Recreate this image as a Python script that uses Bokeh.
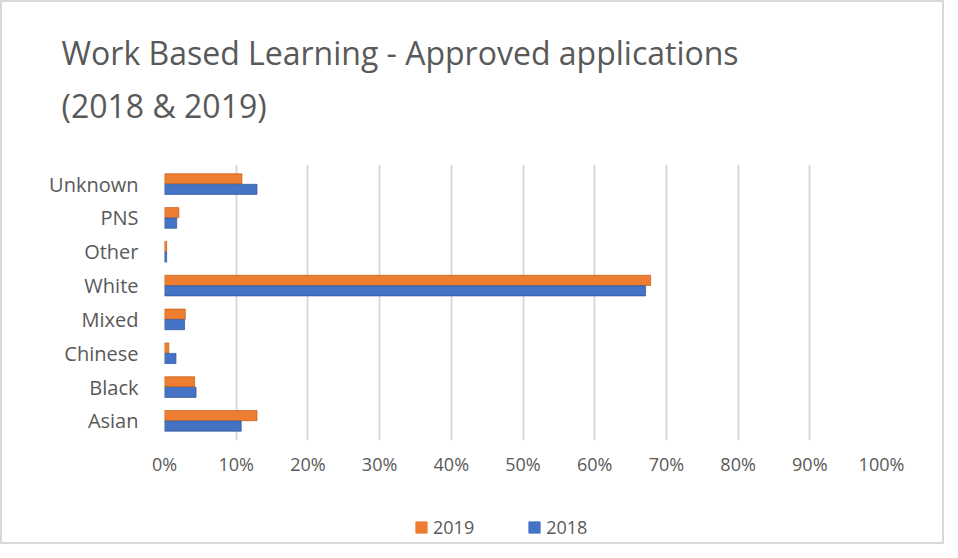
from bokeh.plotting import figure
from bokeh.layouts import column
from bokeh.models import FactorRange, Title, Legend, LegendItem, ColumnDataSource, FixedTicker, CustomJSTickFormatter
from bokeh.transform import dodge
from bokeh.embed import file_html
from bokeh.resources import INLINE

categories = ["Asian", "Black", "Chinese", "Mixed", "White", "Other", "PNS", "Unknown"]
values_2019 = [12.9, 4.2, 0.6, 2.9, 67.8, 0.3, 2.0, 10.8]
values_2018 = [10.7, 4.4, 1.6, 2.8, 67.1, 0.3, 1.7, 12.9]
tick_values = [0, 10, 20, 30, 40, 50, 60, 70, 80, 90, 100]
series_labels = ["2019", "2018"]
title_lines = ["Work Based Learning - Approved applications", "(2018 & 2019)"]

FONT = "Open Sans"
GREY = "#595959"
ORANGE = "#ED7D31"
BLUE = "#4472C4"

src = ColumnDataSource(dict(cat=categories, v19=values_2019, v18=values_2018))

p = figure(width=940, height=514, y_range=FactorRange(*categories), x_range=(0, 100),
           output_backend="svg", toolbar_location=None,
           min_border_left=162, min_border_right=61, min_border_top=178, min_border_bottom=60)
p.margin = (-16, 0, 0, 0)
p.border_fill_alpha = 0

p.hbar(y=dodge("cat", 0.155, range=p.y_range), right="v19", left=0, height=0.3, source=src,
       fill_color=ORANGE, line_color="#C55A11", line_width=0.7)
p.hbar(y=dodge("cat", -0.155, range=p.y_range), right="v18", left=0, height=0.3, source=src,
       fill_color=BLUE, line_color="#2F5597", line_width=0.7)

p.xaxis.ticker = FixedTicker(ticks=tick_values)
p.xaxis.formatter = CustomJSTickFormatter(code="return tick + '%'")
for ax in (p.xaxis[0], p.yaxis[0]):
    ax.axis_line_color = None
    ax.major_tick_line_color = None
    ax.minor_tick_line_color = None
    ax.major_label_text_font = FONT
    ax.major_label_text_color = GREY
p.xaxis.major_label_text_font_size = "18px"
p.yaxis.major_label_text_font_size = "20px"
p.yaxis.major_label_standoff = 20
p.xaxis.major_label_standoff = 5

p.ygrid.grid_line_color = None
p.xgrid.grid_line_color = "#D9D9D9"
p.xgrid.grid_line_width = 2
p.outline_line_color = None
p.y_range.range_padding = 0.02

title = Title(text="\n".join(title_lines), text_font=FONT, text_font_size="32px", text_color=GREY,
              text_font_style="normal", text_line_height=1.23, align="left", offset=-103, standoff=75)
p.add_layout(title, "above")

# legend strip below the chart
lg = figure(width=940, height=42, x_range=(0, 1), y_range=(0, 1), output_backend="svg",
            toolbar_location=None, min_border=0)
lg.axis.visible = False
lg.grid.grid_line_color = None
lg.outline_line_color = None
hidden = ColumnDataSource(dict(l=[float("nan")], r=[float("nan")], b=[float("nan")], t=[float("nan")]))
l19 = lg.quad(left="l", right="r", bottom="b", top="t", source=hidden, fill_color=ORANGE, line_color=ORANGE)
l18 = lg.quad(left="l", right="r", bottom="b", top="t", source=hidden, fill_color=BLUE, line_color=BLUE)
legend = Legend(items=[LegendItem(label=series_labels[0], renderers=[l19]),
                       LegendItem(label=series_labels[1], renderers=[l18])],
                orientation="horizontal", location=(250, 3), label_text_font=FONT,
                label_text_font_size="18px", label_text_color=GREY, glyph_width=14, glyph_height=14,
                border_line_color=None, background_fill_alpha=0, spacing=53, padding=6, margin=0)
lg.add_layout(legend)

layout = column(p, lg, spacing=0)
layout.styles = {"border": "2px solid #D9D9D9"}

open("out.html", "w").write(file_html(layout, INLINE))
